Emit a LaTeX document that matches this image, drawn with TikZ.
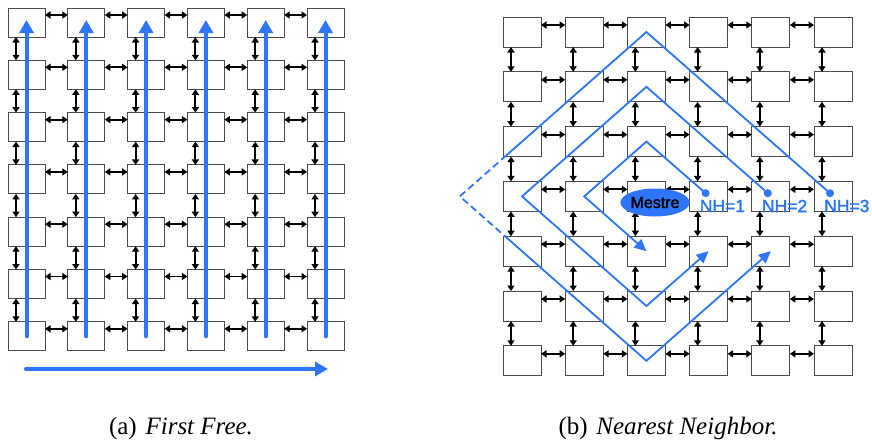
\documentclass[tikz,border=0pt]{standalone}
\usepackage{fontspec}
\setmainfont{Liberation Serif}
\newfontfamily\arialfont[FakeBold=2]{Liberation Sans}
\usetikzlibrary{arrows.meta,calc,shapes.geometric}
\definecolor{myblue}{RGB}{45,117,250}
\tikzset{
  lbox/.style={draw=gray!60!black, line width=1pt, fill=white, minimum width=37pt, minimum height=29pt, inner sep=0pt, outer sep=0pt},
  rbox/.style={draw=gray!60!black, line width=1pt, fill=white, minimum width=38pt, minimum height=30pt, inner sep=0pt, outer sep=0pt},
  link/.style={line width=1.9pt, {Triangle[length=5.5pt,width=7pt]}-{Triangle[length=5.5pt,width=7pt]}},
  bigblue/.style={draw=myblue, line width=4pt, line cap=round, -{Triangle[length=13pt,width=14pt]}},
  thinblue/.style={draw=myblue, line width=1.8pt, line join=miter},
  thinarrow/.style={thinblue, -{Triangle[length=12pt,width=11pt]}},
  nhlabel/.style={text=myblue, font=\arialfont\fontsize{17.5}{20}\selectfont, inner sep=0pt, anchor=west},
  caption/.style={font=\fontsize{25}{29}\selectfont, inner sep=0pt, anchor=base},
}
\begin{document}
\begin{tikzpicture}[x=1pt,y=-1pt]
\useasboundingbox (0,0) rectangle (872,439);
% ---------------- left grid ----------------
\foreach \i in {0,...,5} {
  \foreach \j in {0,...,6} {
    \node[lbox] (L-\i-\j) at ({26.5+59.8*\i},{22.5+52.3*\j}) {};
  }
}
\foreach \j in {0,...,6} {
  \foreach \i [count=\k from 1] in {0,...,4} {
    \draw[link] ([yshift=-7pt]L-\i-\j.north east) -- ([yshift=-7pt]L-\k-\j.north west);
  }
}
\foreach \i in {0,...,5} {
  \foreach \j [count=\k from 1] in {0,...,5} {
    \draw[link] ([xshift=8pt]L-\i-\j.south west) -- ([xshift=8pt]L-\i-\k.north west);
  }
}
\foreach \i in {0,...,5} {
  \draw[bigblue] (L-\i-6.center) -- ([yshift=2.5pt]L-\i-0.center);
}
\coordinate (hs) at (26,369);
\coordinate (he) at (328,369);
\draw[bigblue] (hs) -- (he);
% ---------------- right grid ----------------
\foreach \i in {0,...,5} {
  \foreach \j in {0,...,6} {
    \node[rbox] (R-\i-\j) at ({522+62.2*\i},{32+54.8*\j}) {};
  }
}
\foreach \j in {0,...,6} {
  \foreach \i [count=\k from 1] in {0,...,4} {
    \draw[link] ([yshift=-8pt]R-\i-\j.north east) -- ([yshift=-8pt]R-\k-\j.north west);
  }
}
\foreach \i in {0,...,5} {
  \foreach \j [count=\k from 1] in {0,...,5} {
    \draw[link] ([xshift=8pt]R-\i-\j.south west) -- ([xshift=8pt]R-\i-\k.north west);
  }
}
% spiral geometry
\def\cx{646.4}\def\cy{196.4}\def\px{62.2}\def\py{54.8}
\coordinate (C) at (\cx,\cy);
\coordinate (D1) at ({\cx+1*\px-3},{\cy-3.2});
\coordinate (D2) at ({\cx+2*\px-3},{\cy-3.2});
\coordinate (D3) at ({\cx+3*\px-3},{\cy-3.2});
\coordinate (A1) at (\cx,{\cy-1*\py});
\coordinate (A2) at (\cx,{\cy-2*\py});
\coordinate (A3) at (\cx,{\cy-3*\py});
\coordinate (W1) at ({\cx-1*\px},\cy);
\coordinate (W2) at ({\cx-2*\px},\cy);
\coordinate (W3) at ({\cx-3*\px},\cy);
\coordinate (B1) at (\cx,{\cy+1*\py});
\coordinate (B2) at (\cx,{\cy+2*\py});
\coordinate (B3) at (\cx,{\cy+3*\py});
\coordinate (E2) at ({\cx+1*\px},{\cy+1*\py});
\coordinate (E3) at ({\cx+2*\px},{\cy+1*\py});
\coordinate (S3a) at ({\cx-2.25*\px},{\cy-0.75*\py});
\coordinate (S3b) at ({\cx-2.25*\px},{\cy+0.75*\py});
\draw[thinarrow] (D1) -- (A1) -- (W1) -- (B1);
\draw[thinarrow] (D2) -- (A2) -- (W2) -- (B2) -- (E2);
\draw[thinblue] (D3) -- (A3) -- (S3a);
\draw[thinblue, dash pattern=on 7pt off 4pt] (S3a) -- (W3) -- (S3b);
\draw[thinarrow] (S3b) -- (B3) -- (E3);
\foreach \d in {1,2,3} {
  \fill[myblue] (D\d) circle (4pt);
}
\node[nhlabel] (nh1) at ({\cx+1*\px-9},206) {NH=1};
\node[nhlabel] (nh2) at ({\cx+2*\px-9},206) {NH=2};
\node[nhlabel] (nh3) at ({\cx+3*\px-9},206) {NH=3};
\node[ellipse, fill=myblue, minimum width=61pt, minimum height=28pt, inner sep=0pt,
      font=\arialfont\fontsize{16}{18}\selectfont, text=black] (mestre) at (655,202.5) {Mestre};
% ---------------- captions ----------------
\node[caption] (capa) at (181,434) {(a)\hspace{0.35em}\textit{First Free.}};
\node[caption] (capb) at (668,434) {(b)\hspace{0.35em}\textit{Nearest Neighbor.}};
\end{tikzpicture}
\end{document}
